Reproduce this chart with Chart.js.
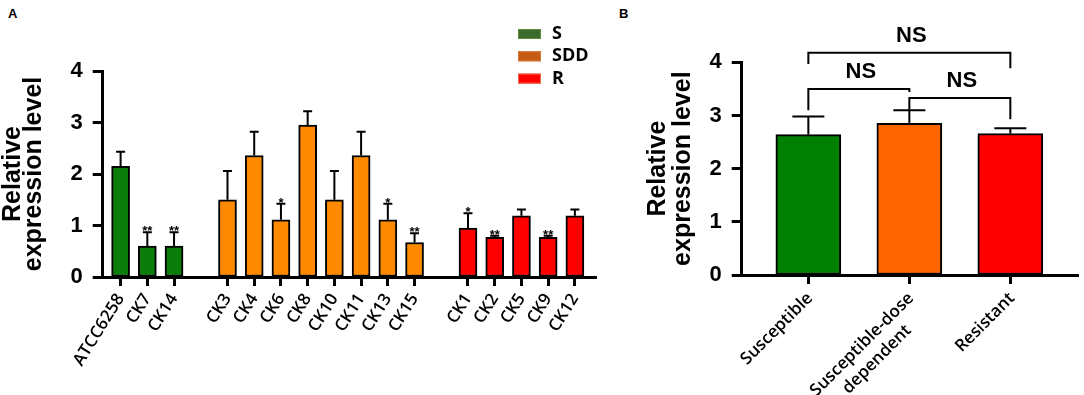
<!DOCTYPE html>
<html>
<head>
<meta charset="utf-8">
<script src="https://cdn.jsdelivr.net/npm/chart.js@4.4.1/dist/chart.umd.min.js"></script>
<style>
  html, body { margin: 0; padding: 0; background: #fff; }
  body { width: 1084px; height: 395px; position: relative; overflow: hidden; }
  .panel { position: absolute; top: 0; }
  .tag { position: absolute; font: bold 13px "Liberation Sans", Arial, sans-serif; color: #000; }
</style>
</head>
<body>
<div class="tag" style="left:8px; top:6px;">A</div>
<div class="tag" style="left:619px; top:6px;">B</div>
<div class="panel" style="left:0;"><canvas id="chartA" width="600" height="395"></canvas></div>
<div class="panel" style="left:600px;"><canvas id="chartB" width="484" height="395"></canvas></div>
<script>
// Panel A - per strain
const sLabels = ['ATCC6258', 'CK7', 'CK14'];
const sValues = [2.15, 0.60, 0.60];
const sErrors = [0.28, 0.27, 0.27];
const sSig = ['', '**', '**'];

const sddLabels = ['CK3', 'CK4', 'CK6', 'CK8', 'CK10', 'CK11', 'CK13', 'CK15'];
const sddValues = [1.50, 2.36, 1.11, 2.95, 1.50, 2.36, 1.11, 0.67];
const sddErrors = [0.56, 0.46, 0.31, 0.27, 0.56, 0.46, 0.31, 0.18];
const sddSig = ['', '', '*', '', '', '', '*', '**'];

const rLabels = ['CK1', 'CK2', 'CK5', 'CK9', 'CK12'];
const rValues = [0.95, 0.77, 1.19, 0.77, 1.19];
const rErrors = [0.29, 0.03, 0.12, 0.03, 0.12];
const rSig = ['*', '**', '', '**', ''];

const legendLabels = ['S', 'SDD', 'R'];
const yTicks = [0, 1, 2, 3, 4];

// Panel B - per group
const groupLabels = [['Susceptible'], ['Susceptible-dose', 'dependent'], ['Resistant']];
const groupMeans = [2.64, 2.85, 2.66];
const groupErrors = [0.34, 0.25, 0.10];
// comparisons: [from, to, bracket level, left leg end, right leg end]
const comparisons = [
  [0, 2, 4.18, 3.97, 3.89],
  [0, 1, 3.50, 3.10, 3.44],
  [1, 2, 3.33, 3.11, 2.93]
];
const comparisonText = ['NS', 'NS', 'NS'];

const colorsA = { S: '#0b7d0b', SDD: '#ff8a00', R: '#ff0000' };
const legendColors = ['#3c6b2b', '#c45a14', '#ff0000'];
const legendBorders = ['#5e8e3c', '#d4783a', '#e8704a'];
const colorsB = ['#008000', '#ff6600', '#ff0000'];

const numFont = { family: '"Liberation Sans", Arial, sans-serif', weight: 'bold', size: 22 };
const labelFamily = '"Open Sans", sans-serif';

// build the gapped category list for panel A
const groups = [
  { labels: sLabels, values: sValues, errors: sErrors, sig: sSig, color: colorsA.S },
  { labels: sddLabels, values: sddValues, errors: sddErrors, sig: sddSig, color: colorsA.SDD },
  { labels: rLabels, values: rValues, errors: rErrors, sig: rSig, color: colorsA.R }
];
const catA = [], valA = [], errA = [], sigA = [], colA = [];
groups.forEach((g, gi) => {
  if (gi > 0) { catA.push(''); valA.push(null); errA.push(null); sigA.push(''); colA.push('#fff'); }
  g.labels.forEach((l, i) => {
    catA.push(l); valA.push(g.values[i]); errA.push(g.errors[i]); sigA.push(g.sig[i]); colA.push(g.color);
  });
});

// stretch the category scale so the first/last bars sit where wanted
function padCategory(scale, left, right) {
  const n = scale.getLabels().length;
  scale._startValue = -left;
  scale._valueRange = (n - 1) + left + right;
}

function yAxis(width, title) {
  return {
    min: 0, max: 4,
    afterBuildTicks: s => { s.ticks = yTicks.map(v => ({ value: v })); },
    ticks: { color: '#000', font: numFont, padding: 10 },
    grid: { drawOnChartArea: false, tickLength: 10, tickWidth: 3, tickColor: '#000' },
    border: { color: '#000', width: 3 },
    title: title,
    afterFit: s => { s.width = width; }
  };
}

const errorBarsA = {
  id: 'errorBarsA',
  afterDatasetsDraw(chart) {
    const { ctx, scales: { x, y } } = chart;
    ctx.save();
    ctx.strokeStyle = '#000';
    ctx.lineWidth = 2;
    ctx.fillStyle = '#000';
    ctx.font = 'bold 13px "Liberation Sans", Arial, sans-serif';
    ctx.textAlign = 'center';
    ctx.textBaseline = 'alphabetic';
    valA.forEach((v, i) => {
      if (v === null) return;
      const px = x.getPixelForValue(i);
      const top = y.getPixelForValue(v + errA[i]);
      ctx.beginPath();
      ctx.moveTo(px, y.getPixelForValue(v));
      ctx.lineTo(px, top);
      ctx.moveTo(px - 4.5, top);
      ctx.lineTo(px + 4.5, top);
      ctx.stroke();
      if (sigA[i]) ctx.fillText(sigA[i], px, top + 3);
    });
    ctx.restore();
  },
  afterDraw(chart) {
    const { ctx } = chart;
    ctx.save();
    ctx.font = 'bold 18px ' + labelFamily;
    ctx.textBaseline = 'middle';
    ctx.textAlign = 'left';
    legendLabels.forEach((l, i) => {
      const yc = 34 + i * 22.3;
      ctx.fillStyle = legendColors[i];
      ctx.fillRect(518, yc - 5, 23, 10);
      ctx.strokeStyle = legendBorders[i];
      ctx.lineWidth = 1;
      ctx.strokeRect(518.5, yc - 4.5, 22, 9);
      ctx.fillStyle = '#000';
      ctx.fillText(l, 552, yc);
    });
    ctx.restore();
  }
};

new Chart(document.getElementById('chartA'), {
  type: 'bar',
  data: {
    labels: catA,
    datasets: [{
      data: valA,
      backgroundColor: colA,
      borderColor: '#000',
      borderWidth: 2,
      borderSkipped: false,
      barThickness: 18
    }]
  },
  options: {
    responsive: false,
    animation: false,
    layout: { padding: { top: 71, right: 4, left: 0, bottom: 0 } },
    plugins: { legend: { display: false }, tooltip: { enabled: false } },
    scales: {
      x: {
        type: 'category',
        offset: false,
        afterBuildTicks: s => {
          padCategory(s, 0.67, 0.79);
          s.ticks = s.ticks.filter(t => catA[t.value] !== '');
        },
        ticks: {
          autoSkip: false, minRotation: 58, maxRotation: 58, padding: 4, color: '#000',
          font: { family: labelFamily, weight: '600', size: 17 }
        },
        grid: { drawOnChartArea: false, offset: false, tickLength: 9, tickWidth: 3, tickColor: '#000' },
        border: { color: '#000', width: 3 },
        afterFit: s => { s.height = 118; }
      },
      y: yAxis(102.7, {
        display: true,
        text: ['Relative', 'expression level'],
        color: '#000',
        font: { family: '"Liberation Sans", Arial, sans-serif', weight: 'bold', size: 25, lineHeight: 0.85 },
        padding: { top: 2, bottom: 0 }
      })
    }
  },
  plugins: [errorBarsA]
});

const decorB = {
  id: 'decorB',
  afterDatasetsDraw(chart) {
    const { ctx, scales: { x, y } } = chart;
    ctx.save();
    ctx.strokeStyle = '#000';
    ctx.lineWidth = 2;
    groupMeans.forEach((v, i) => {
      const px = x.getPixelForValue(i);
      const top = y.getPixelForValue(v + groupErrors[i]);
      ctx.beginPath();
      ctx.moveTo(px, y.getPixelForValue(v));
      ctx.lineTo(px, top);
      ctx.moveTo(px - 16, top);
      ctx.lineTo(px + 16, top);
      ctx.stroke();
    });
    ctx.restore();
  },
  afterDraw(chart) {
    const { ctx, scales: { x, y } } = chart;
    ctx.save();
    ctx.strokeStyle = '#000';
    ctx.lineWidth = 2;
    ctx.fillStyle = '#000';
    ctx.font = 'bold 22px "Liberation Sans", Arial, sans-serif';
    ctx.textAlign = 'center';
    ctx.textBaseline = 'middle';
    comparisons.forEach((c, i) => {
      const x1 = x.getPixelForValue(c[0]);
      const x2 = x.getPixelForValue(c[1]);
      const yb = y.getPixelForValue(c[2]);
      ctx.beginPath();
      ctx.moveTo(x1, y.getPixelForValue(c[3]));
      ctx.lineTo(x1, yb);
      ctx.lineTo(x2, yb);
      ctx.lineTo(x2, y.getPixelForValue(c[4]));
      ctx.stroke();
      ctx.fillText(comparisonText[i], (x1 + x2) / 2 + 2, yb - 17);
    });

    // rotated category labels, lines centred on each other
    ctx.font = '600 17px ' + labelFamily;
    groupLabels.forEach((lines, i) => {
      const px = x.getPixelForValue(i);
      const w = Math.max(...lines.map(l => ctx.measureText(l).width));
      ctx.save();
      ctx.translate(px - 4, x.top + 15);
      ctx.rotate(-Math.PI / 4);
      lines.forEach((l, k) => ctx.fillText(l, -w / 2, 8 + k * 21));
      ctx.restore();
    });
    ctx.restore();
  }
};

new Chart(document.getElementById('chartB'), {
  type: 'bar',
  data: {
    labels: groupLabels.map(l => l.join(' ')),
    datasets: [{
      data: groupMeans,
      backgroundColor: colorsB,
      borderColor: '#000',
      borderWidth: 2,
      borderSkipped: false,
      barThickness: 65
    }]
  },
  options: {
    responsive: false,
    animation: false,
    layout: { padding: { top: 62.3, right: 6, left: 0, bottom: 0 } },
    plugins: { legend: { display: false }, tooltip: { enabled: false } },
    scales: {
      x: {
        type: 'category',
        offset: false,
        afterBuildTicks: s => { padCategory(s, 0.66, 0.67); },
        ticks: { display: false },
        grid: { drawOnChartArea: false, offset: false, tickLength: 9, tickWidth: 3, tickColor: '#000' },
        border: { color: '#000', width: 3 },
        afterFit: s => { s.height = 120; }
      },
      y: yAxis(141.7, {
        display: true,
        text: ['Relative', 'expression level'],
        color: '#000',
        font: { family: '"Liberation Sans", Arial, sans-serif', weight: 'bold', size: 25, lineHeight: 1.0 },
        padding: { top: 46, bottom: 0 }
      })
    }
  },
  plugins: [decorB]
});
</script>
</body>
</html>
